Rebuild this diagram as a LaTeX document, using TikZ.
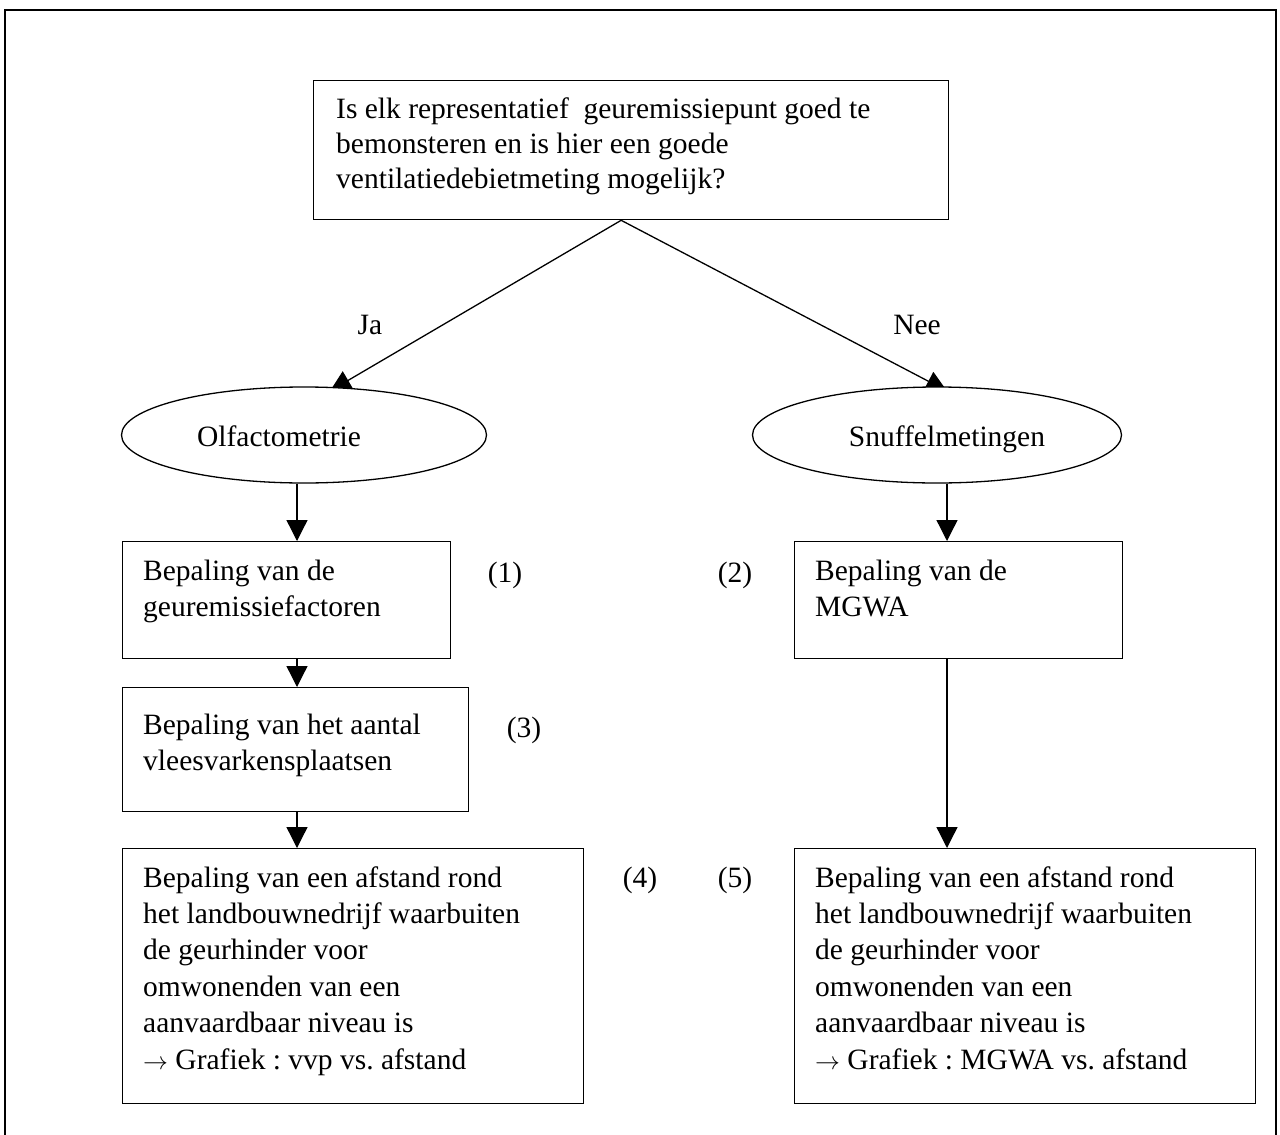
\documentclass[tikz,border=0pt]{standalone}
\usepackage{fontspec}
\setmainfont{Liberation Serif}
\usetikzlibrary{arrows.meta,shapes.geometric}
\frenchspacing
\newcommand{\mylines}[1]{\begin{tabular}[t]{@{}l@{}}#1\end{tabular}}
\begin{document}
\begin{tikzpicture}[x=1pt,y=-1pt,
  every node/.style={font=\fontsize{29.5}{36}\selectfont},
  box/.style={draw, line width=1.3pt, rectangle, anchor=north west, inner sep=0pt},
  oval/.style={draw, line width=1.3pt, ellipse, fill=white, inner sep=0pt, minimum height=96pt},
  txt/.style={anchor=base west, inner sep=0pt},
  lbl/.style={anchor=base, inner sep=0pt},
  arr/.style={line width=1.3pt, -{Triangle[length=21pt,width=21pt]}}]
\clip (0,0) rectangle (1280,1135);
\fill[white] (0,0) rectangle (1280,1135);
% outer frame (bottom edge lies outside the picture)
\draw[line width=1.5pt] (5,1150) -- (5,10) -- (1276,10) -- (1276,1150);

% question box
\node[box, minimum width=635pt, minimum height=139pt] (q) at (313,80) {};
\node[txt, font=\fontsize{29.5}{35}\selectfont] (qt) at (336,118)
  {\mylines{Is elk representatief\ \ geuremissiepunt goed te\\bemonsteren en is hier een goede\\ventilatiedebietmeting mogelijk?}};
\coordinate (apex) at ([xshift=-10pt]q.south);
\coordinate (jaend) at (330,391);
\coordinate (neeend) at (947,391);
\draw[arr] (apex) -- (jaend);
\draw[arr] (apex) -- (neeend);
\node[lbl] (ja) at (370,334) {Ja};
\node[lbl] (nee) at (917,334) {Nee};

% ellipses
\node[oval, minimum width=365pt] (e1) at (304,435) {};
\node[oval, minimum width=369pt] (e2) at (937,435) {};
\node[lbl] (e1t) at (279,446) {Olfactometrie};
\node[lbl] (e2t) at (947,446) {Snuffelmetingen};

% boxes
\node[box, minimum width=328pt, minimum height=117pt] (b1) at (122,541) {};
\node[box, minimum width=328pt, minimum height=117pt] (b2) at (794,541) {};
\node[box, minimum width=346pt, minimum height=124pt] (b3) at (122,687) {};
\node[box, minimum width=461pt, minimum height=255pt] (b4) at (122,848) {};
\node[box, minimum width=461pt, minimum height=255pt] (b5) at (794,848) {};

\node[txt] (b1t) at (143,580) {\mylines{Bepaling van de\\geuremissiefactoren}};
\node[txt] (b2t) at (815,580) {\mylines{Bepaling van de\\MGWA}};
\node[txt] (b3t) at (143,734) {\mylines{Bepaling van het aantal\\vleesvarkensplaatsen}};
\node[txt, font=\fontsize{29.5}{36.4}\selectfont] (b4t) at (143,887)
  {\mylines{Bepaling van een afstand rond\\het landbouwnedrijf waarbuiten\\de geurhinder voor\\omwonenden van een\\aanvaardbaar niveau is\\$\rightarrow$ Grafiek : vvp vs. afstand}};
\node[txt, font=\fontsize{29.5}{36.4}\selectfont] (b5t) at (815,887)
  {\mylines{Bepaling van een afstand rond\\het landbouwnedrijf waarbuiten\\de geurhinder voor\\omwonenden van een\\aanvaardbaar niveau is\\$\rightarrow$ Grafiek : MGWA vs. afstand}};

% numbers
\node[lbl] (n1) at (505,582) {(1)};
\node[lbl] (n2) at (735,582) {(2)};
\node[lbl] (n3) at (524,737) {(3)};
\node[lbl] (n4) at (640,887) {(4)};
\node[lbl] (n5) at (735,887) {(5)};

% vertical connectors
\draw[arr] ([xshift=-7pt]e1.south) -- ([xshift=-7pt]e1.south |- b1.north);
\draw[arr] ([xshift=175pt]b1.south west) -- ([xshift=175pt]b1.south west |- b3.north);
\draw[arr] ([xshift=175pt]b3.south west) -- ([xshift=175pt]b3.south west |- b4.north);
\draw[arr] ([xshift=10pt]e2.south) -- ([xshift=10pt]e2.south |- b2.north);
\draw[arr] ([xshift=153pt]b2.south west) -- ([xshift=153pt]b2.south west |- b5.north);
\end{tikzpicture}
\end{document}
